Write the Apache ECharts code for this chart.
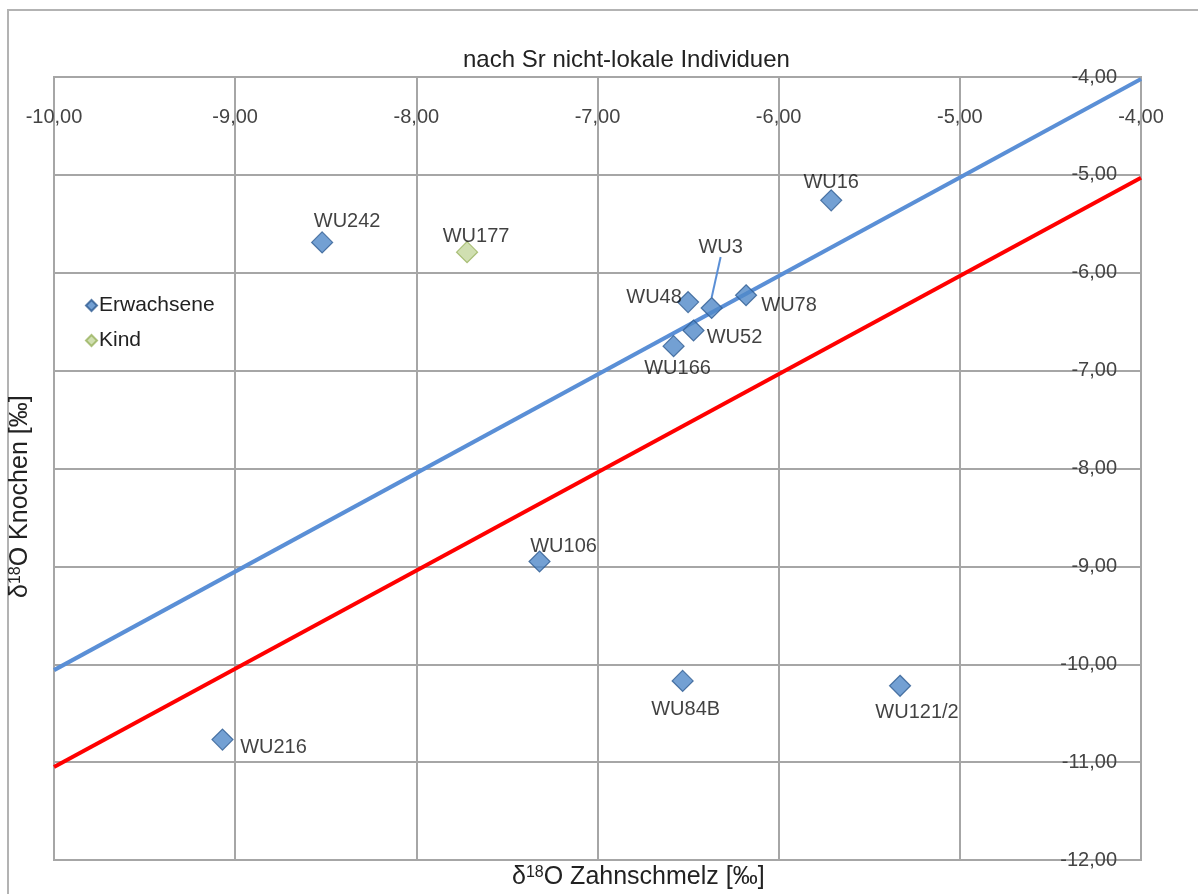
<!DOCTYPE html>
<html>
<head>
<meta charset="utf-8">
<script src="https://cdn.jsdelivr.net/npm/echarts@6/dist/echarts.min.js"></script>
<style>html,body{margin:0;padding:0;background:#fff;}#c{width:1198px;height:894px;}</style>
</head>
<body>
<div id="c"></div>
<script>
// ---- data ----
const adultNames = ['WU242','WU16','WU3','WU48','WU78','WU52','WU166','WU106','WU84B','WU121/2','WU216'];
const adultZahnschmelz = [-8.52,-5.71,-6.37,-6.50,-6.18,-6.47,-6.58,-7.32,-6.53,-5.33,-9.07];
const adultKnochen = [-5.69,-5.26,-6.36,-6.30,-6.23,-6.59,-6.75,-8.95,-10.17,-10.22,-10.77];
const childNames = ['WU177'];
const childZahnschmelz = [-7.72];
const childKnochen = [-5.79];
const blueLineX = [-10, -4];
const blueLineY = [-10.06, -4.02];
const redLineX = [-10, -4];
const redLineY = [-11.05, -5.03];
const xTicks = [-10,-9,-8,-7,-6,-5,-4];
const yTicks = [-12,-11,-10,-9,-8,-7,-6,-5,-4];

// ---- label placement (style) ----
const labelOffsets = {
  'WU242':[25,-21],'WU177':[9,-16],'WU16':[0,-18],'WU3':[9,-61],'WU48':[-34,-5],
  'WU78':[43,10],'WU52':[41,7],'WU166':[4,22],'WU106':[24,-15],'WU84B':[3,29],
  'WU121/2':[17,27],'WU216':[51,8]
};
const FONT = '"Liberation Sans", Arial, sans-serif';
const fmt = v => v.toFixed(2).replace('.', ',');

function pts(names, xs, ys){
  return names.map((n,i)=>{
    const item = {name:n, value:[xs[i], ys[i]], label:{offset:labelOffsets[n]}};
    if (n === 'WU3') item.labelLine = {show:true};
    return item;
  });
}

const chart = echarts.init(document.getElementById('c'), null, {renderer:'canvas'});
const labelCommon = {show:true, position:'inside', formatter:p=>p.name, color:'#111', fontSize:20, fontFamily:FONT};
chart.setOption({
  animation:false,
  textStyle:{fontFamily:FONT},
  title:{text:'nach Sr nicht-lokale Individuen', left:458, top:43,
    textStyle:{fontSize:24, fontWeight:'normal', color:'#222', fontFamily:FONT}},
  legend:{orient:'vertical', left:80, top:290, itemWidth:11, itemHeight:11, itemGap:14,
    data:['Erwachsene','Kind'], textStyle:{fontSize:21, color:'#222', fontFamily:FONT, padding:[0,0,0,-3]}},
  grid:{left:54, right:57, top:77, bottom:34, show:true, borderColor:'#a6a6a6', borderWidth:2},
  xAxis:[{type:'value', position:'top', min:-10, max:-4, interval:1,
    axisLine:{show:true, onZero:false, lineStyle:{color:'#a6a6a6', width:2}}, axisTick:{show:false},
    splitLine:{show:true, lineStyle:{color:'#a6a6a6', width:2}},
    axisLabel:{inside:true, margin:30, fontSize:20, color:'#444', fontFamily:FONT, formatter:fmt, showMinLabel:true, showMaxLabel:true}}],
  yAxis:[{type:'value', position:'right', min:-12, max:-4, interval:1,
    axisLine:{show:true, onZero:false, lineStyle:{color:'#a6a6a6', width:2}}, axisTick:{show:false},
    splitLine:{show:true, lineStyle:{color:'#a6a6a6', width:2}},
    axisLabel:{inside:true, margin:24, fontSize:20, color:'#444', fontFamily:FONT, formatter:fmt, showMinLabel:true, showMaxLabel:true}}],
  series:[
    {name:'blue', type:'line', data:blueLineX.map((x,i)=>[x,blueLineY[i]]), symbol:'none',
      lineStyle:{color:'#5a8fd6', width:4}, z:3},
    {name:'red', type:'line', data:redLineX.map((x,i)=>[x,redLineY[i]]), symbol:'none',
      lineStyle:{color:'#ff0000', width:4}, z:3},
    {name:'Erwachsene', type:'scatter', symbol:'diamond', symbolSize:21, z:5,
      itemStyle:{color:'#5088c8', borderColor:'#2f5d92', borderWidth:1.2},
      label:labelCommon,
      labelLine:{show:false, lineStyle:{color:'#5a8fd6', width:2}},
      data:pts(adultNames, adultZahnschmelz, adultKnochen)},
    {name:'Kind', type:'scatter', symbol:'diamond', symbolSize:21, z:5,
      itemStyle:{color:'#c4d79d', borderColor:'#9ab35f', borderWidth:1.2},
      label:labelCommon,
      data:pts(childNames, childZahnschmelz, childKnochen)}
  ],
  graphic:[
    {type:'rect', shape:{x:8, y:10, width:1250, height:950}, style:{fill:null, stroke:'#b3b3b3', lineWidth:2}, silent:true, z:-10},
    {type:'text', left:512, top:865, style:{text:'{a|δ}{s|18}{a|O Zahnschmelz [‰]}', rich:{
      a:{fontSize:25, fill:'#222', fontFamily:FONT}, s:{fontSize:16, fill:'#222', fontFamily:FONT, padding:[0,0,9,0]}}}},
    {type:'text', x:8, y:598, rotation:Math.PI/2, style:{text:'{a|δ}{s|18}{a|O Knochen [‰]}', rich:{
      a:{fontSize:25, fill:'#222', fontFamily:FONT}, s:{fontSize:16, fill:'#222', fontFamily:FONT, padding:[0,0,9,0]}}}}
  ]
});
</script>
</body>
</html>
